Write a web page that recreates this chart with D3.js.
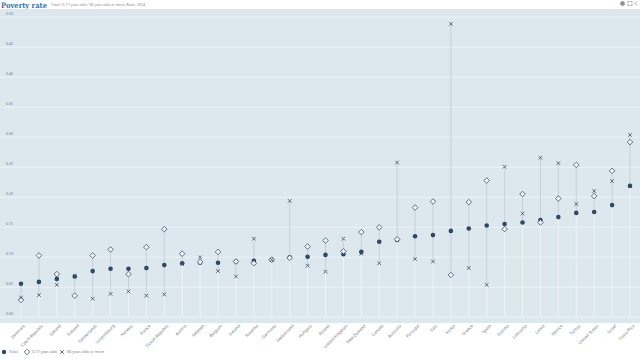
<!DOCTYPE html>
<html><head><meta charset="utf-8">
<script src="https://cdn.jsdelivr.net/npm/d3@7/dist/d3.min.js"></script>
<style>body{margin:0;background:#fff}svg{display:block;font-family:"Noto Sans",Arial,sans-serif}</style>
</head><body><svg id="c" width="640" height="360"></svg>
<script>
const countries = ["Denmark","Czech Republic","Iceland","Finland","Netherlands","Luxembourg","Norway","France","Slovak Republic","Austria","Sweden","Belgium","Ireland","Slovenia","Germany","Switzerland","Hungary","Poland","United Kingdom","New Zealand","Canada","Australia","Portugal","Italy","Korea","Greece","Spain","Estonia","Lithuania","Latvia","Mexico","Turkey","United States","Israel","Costa Rica"];
const total   = [0.055,0.058,0.063,0.067,0.076,0.080,0.080,0.081,0.086,0.089,0.090,0.090,0.092,0.093,0.095,0.099,0.100,0.103,0.104,0.108,0.125,0.128,0.134,0.136,0.143,0.147,0.152,0.1545,0.157,0.161,0.166,0.173,0.1745,0.186,0.218];
const child   = [0.028,0.102,0.071,0.035,0.102,0.112,0.071,0.116,0.146,0.105,0.091,0.108,0.092,0.089,0.095,0.098,0.117,0.127,0.109,0.141,0.149,0.129,0.182,0.192,0.0695,0.191,0.227,0.146,0.2045,0.157,0.197,0.253,0.201,0.243,0.291];
const elderly = [0.032,0.036,0.053,0.068,0.030,0.038,0.042,0.035,0.037,0.088,0.099,0.076,0.067,0.130,0.095,0.193,0.085,0.075,0.130,0.105,0.089,0.257,0.096,0.092,0.488,0.081,0.053,0.250,0.172,0.265,0.256,0.188,0.2095,0.226,0.303];
const yTicks = [0,0.05,0.10,0.15,0.20,0.25,0.30,0.35,0.40,0.45,0.50];
const legendLabels = ["Total","0-17 year-olds","66 year-olds or more"];

const svg = d3.select("#c");
const W = 640, plotTop = 9, plotBottom = 323;
const x = d3.scalePoint().domain(countries).range([21, 630]);
const y = d3.scaleLinear().domain([0, 0.5]).range([316.7, 16.7]);

// header
svg.append("text").attr("x",1).attr("y",7.5).attr("font-size",7.5).attr("font-weight","bold")
  .attr("fill","#2f74b5").attr("font-family","'DejaVu Serif',serif")
  .attr("textLength",46).attr("lengthAdjust","spacingAndGlyphs").text("Poverty rate");
svg.append("text").attr("x",51).attr("y",5.5).attr("font-size",3.6).attr("fill","#7a8893")
  .text("Total / 0-17 year-olds / 66 year-olds or more, Ratio, 2014");
// icons
const ic = svg.append("g").attr("fill","none").attr("stroke","#8a949c").attr("stroke-width",0.8);
ic.append("circle").attr("cx",622.5).attr("cy",3.5).attr("r",2).attr("fill","#8a949c");
ic.append("path").attr("d","M628 1.5h1.5M628 1.5v1.5M632 1.5h-1.5M632 1.5v1.5M628 5.5h1.5M628 5.5v-1.5M632 5.5h-1.5M632 5.5v-1.5");
ic.append("path").attr("d","M637 1.5l-2 2l2 2");

// plot bg
svg.append("rect").attr("x",0).attr("y",plotTop).attr("width",W).attr("height",plotBottom-plotTop).attr("fill","#dce7ee");

// y grid
const ya = svg.append("g").call(d3.axisLeft(y).tickValues(yTicks).tickSize(-W).tickFormat(d3.format(".2f")));
ya.select(".domain").remove();
ya.selectAll(".tick line").attr("stroke","#edf3f7").attr("stroke-width",1);
ya.selectAll(".tick text").attr("x",6).attr("dy",-2.2).attr("text-anchor","start")
  .attr("font-size",3.6).attr("fill","#6f7c86").attr("font-family","'Noto Sans',sans-serif");

// stems
const idx = d3.range(countries.length);
const g = svg.append("g");
g.selectAll("line.base").data(idx).join("line").attr("class","base")
  .attr("x1",i=>x(countries[i])).attr("x2",i=>x(countries[i]))
  .attr("y1",y(0)).attr("y2",i=>y(Math.min(total[i],child[i],elderly[i])))
  .attr("stroke","#eef3f6").attr("stroke-width",1);
g.selectAll("line.rng").data(idx).join("line").attr("class","rng")
  .attr("x1",i=>x(countries[i])).attr("x2",i=>x(countries[i]))
  .attr("y1",i=>y(Math.min(total[i],child[i],elderly[i]))).attr("y2",i=>y(Math.max(total[i],child[i],elderly[i])))
  .attr("stroke","#bfcbd3").attr("stroke-width",0.8);

// markers
g.selectAll("circle.tot").data(idx).join("circle").attr("class","tot")
  .attr("cx",i=>x(countries[i])).attr("cy",i=>y(total[i])).attr("r",2.3).attr("fill","#2e4a63");
const dPath = "M0,-2.8L2.8,0L0,2.8L-2.8,0Z";
g.selectAll("path.ch").data(idx).join("path").attr("class","ch")
  .attr("transform",i=>`translate(${x(countries[i])},${y(child[i])})`).attr("d",dPath)
  .attr("fill","#eef3f6").attr("stroke","#3f566b").attr("stroke-width",0.8);
const xPath = "M-1.8,-1.8L1.8,1.8M-1.8,1.8L1.8,-1.8";
g.selectAll("path.el").data(idx).join("path").attr("class","el")
  .attr("transform",i=>`translate(${x(countries[i])},${y(elderly[i])})`).attr("d",xPath)
  .attr("fill","none").attr("stroke","#3c4e5e").attr("stroke-width",0.8);

// x axis labels
const xa = svg.append("g").attr("transform",`translate(0,${plotBottom})`).call(d3.axisBottom(x).tickSize(0));
xa.select(".domain").remove();
xa.selectAll(".tick text").attr("text-anchor","end").attr("font-size",4.2).attr("fill","#6f7c86")
  .attr("font-family","'Noto Sans',sans-serif")
  .attr("transform","translate(3,2) rotate(-45)").attr("dy","0.35em").attr("y",0).attr("x",0);

// legend
const lg = svg.append("g").attr("transform","translate(0,352)");
lg.append("circle").attr("cx",4).attr("cy",0).attr("r",2.2).attr("fill","#2e4a63");
lg.append("text").attr("x",9).attr("y",1.3).attr("font-size",3.8).attr("fill","#6f7c86").text(legendLabels[0]);
lg.append("path").attr("transform","translate(27,0)").attr("d",dPath).attr("fill","#fff").attr("stroke","#3f566b").attr("stroke-width",0.8);
lg.append("text").attr("x",32).attr("y",1.3).attr("font-size",3.8).attr("fill","#6f7c86").text(legendLabels[1]);
lg.append("path").attr("transform","translate(62,0)").attr("d",xPath).attr("stroke","#3c4e5e").attr("stroke-width",0.8);
lg.append("text").attr("x",67).attr("y",1.3).attr("font-size",3.8).attr("fill","#6f7c86").text(legendLabels[2]);
</script></body></html>
